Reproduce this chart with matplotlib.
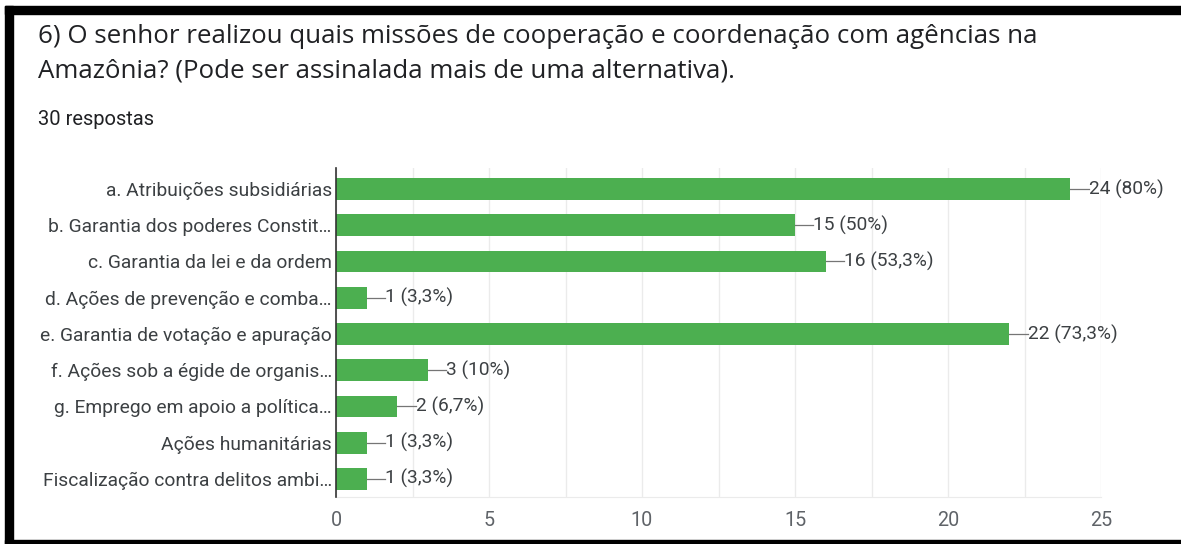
import matplotlib
matplotlib.use("Agg")
import matplotlib.pyplot as plt
from matplotlib.patches import Rectangle
from matplotlib.ticker import MultipleLocator

plt.rcParams['font.family'] = ['Roboto', 'DejaVu Sans']

# Respostas por missão (30 respondentes, múltipla escolha)
categorias = [
    "a. Atribuições subsidiárias",
    "b. Garantia dos poderes Constit…",
    "c. Garantia da lei e da ordem",
    "d. Ações de prevenção e comba…",
    "e. Garantia de votação e apuração",
    "f. Ações sob a égide de organis…",
    "g. Emprego em apoio a política…",
    "Ações humanitárias",
    "Fiscalização contra delitos ambi…",
]
contagens = [24, 15, 16, 1, 22, 3, 2, 1, 1]
percentuais = ["80%", "50%", "53,3%", "3,3%", "73,3%", "10%", "6,7%", "3,3%", "3,3%"]
x_ticks = [0, 5, 10, 15, 20, 25]

W, H = 1181, 544
fig = plt.figure(figsize=(W / 100, H / 100), dpi=100)
fig.patch.set_facecolor("white")

# moldura preta (topo, esquerda, base)
for x0, y0, w, h in [(5, 530, 1176, 8), (5, 0, 8, 538), (5, 0, 1176, 4)]:
    fig.add_artist(Rectangle((x0 / W, y0 / H), w / W, h / H,
                             transform=fig.transFigure, color="black", zorder=10))

titulo_fonte = ['Open Sans', 'DejaVu Sans']
fig.text(38 / W, 1 - 43 / H,
         "6) O senhor realizou quais missões de cooperação e coordenação com agências na",
         fontsize=18.6, color="#202124", family=titulo_fonte)
fig.text(38 / W, 1 - 77 / H,
         "Amazônia? (Pode ser assinalada mais de uma alternativa).",
         fontsize=18.6, color="#202124", family=titulo_fonte)
fig.text(38 / W, 1 - 125 / H, "30 respostas", fontsize=14.5, color="#202124")

ax = fig.add_axes([336 / W, 1 - 497 / H, (1101 - 336) / W, (497 - 168) / H])
y = list(range(len(categorias)))
ax.barh(y, contagens, height=0.6, color="#4caf50", zorder=3)

for yi, c, p in zip(y, contagens, percentuais):
    ax.plot([c, c + 0.6], [yi, yi], color="#757575", lw=0.9, zorder=3)
    ax.text(c + 0.6, yi, f"{c} ({p})", va="center", ha="left",
            fontsize=13.8, color="#3c4043")

ax.set_xlim(0, 25)
ax.set_ylim(8.5, -0.58)
ax.set_xticks(x_ticks)
ax.xaxis.set_minor_locator(MultipleLocator(2.5))
ax.set_yticks(y)
ax.set_yticklabels(categorias)
ax.tick_params(axis="y", length=0, pad=3, labelsize=13.9, labelcolor="#3c4043")
ax.tick_params(axis="x", which="both", length=0, pad=10, labelsize=14.2,
               labelcolor="#5f6368")
ax.grid(axis="x", which="both", color="#ebebeb", lw=1, zorder=0)

for s in ("top", "right"):
    ax.spines[s].set_visible(False)
ax.spines["bottom"].set_color("#ebebeb")
ax.spines["left"].set_color("#333333")
ax.spines["left"].set_linewidth(1.2)
ax.spines["left"].set_zorder(4)

fig.savefig("out.png", dpi=100, facecolor="white")
